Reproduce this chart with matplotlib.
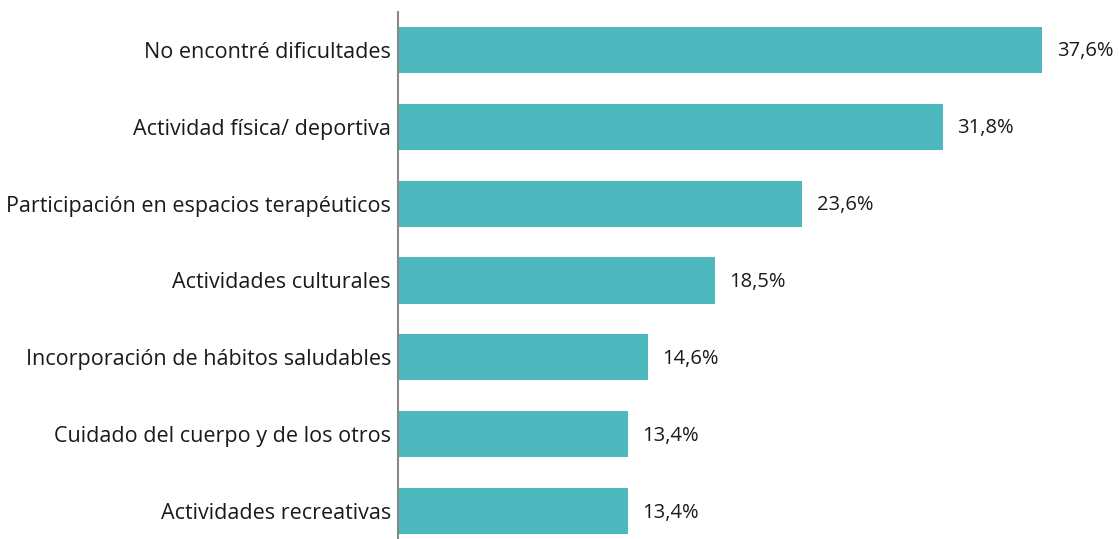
import matplotlib
matplotlib.use("Agg")
import matplotlib.pyplot as plt

categories = [
    "No encontré dificultades",
    "Actividad física/ deportiva",
    "Participación en espacios terapéuticos",
    "Actividades culturales",
    "Incorporación de hábitos saludables",
    "Cuidado del cuerpo y de los otros",
    "Actividades recreativas",
]
values = [37.6, 31.8, 23.6, 18.5, 14.6, 13.4, 13.4]
labels = ["37,6%", "31,8%", "23,6%", "18,5%", "14,6%", "13,4%", "13,4%"]

W, H = 1119, 539
plt.rcParams['font.family'] = ['Open Sans', 'DejaVu Sans']
fig = plt.figure(figsize=(W / 100, H / 100), dpi=100)
ax = fig.add_axes([398 / W, 0, (W - 398) / W, (H - 12) / H])

color = "#4db8bd"
y = list(range(len(categories)))
ax.barh(y, values, height=0.6, color=color)
ax.set_ylim(6 + 28 / 77, -38 / 77)
ax.set_xlim(0, (W - 398) / 17.13)

for yi, v, lab in zip(y, values, labels):
    ax.text(v + 0.85, yi + 0.02, lab, va="center", ha="left", fontsize=14.5, color="#1a1a1a")

ax.set_yticks(y)
ax.set_yticklabels(categories, fontsize=15.5, color="#1a1a1a")
ax.tick_params(axis="y", length=0, pad=5)
ax.set_xticks([])
for s in ["top", "right", "bottom"]:
    ax.spines[s].set_visible(False)
ax.spines["left"].set_color("#888888")
ax.spines["left"].set_linewidth(1.5)

fig.savefig("out.png", dpi=100)
